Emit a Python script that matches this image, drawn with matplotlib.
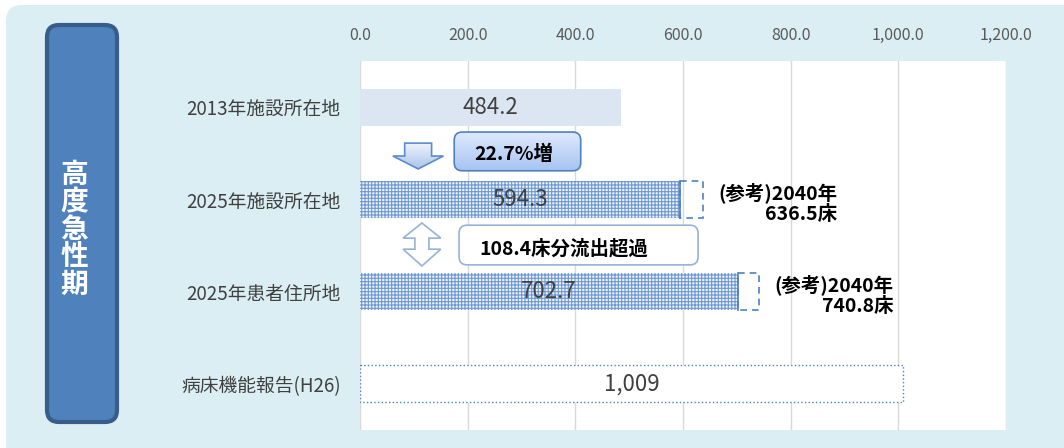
import matplotlib
matplotlib.use('Agg')
import matplotlib.pyplot as plt
from matplotlib.patches import FancyBboxPatch, Rectangle, Polygon
from matplotlib.colors import to_rgb
import numpy as np

plt.rcParams['font.family'] = ['Noto Sans CJK JP', 'DejaVu Sans']
plt.rcParams['hatch.linewidth'] = 0.8

# data
categories = ['2013年施設所在地', '2025年施設所在地', '2025年患者住所地', '病床機能報告(H26)']
values = [484.2, 594.3, 702.7, 1009]
value_labels = ['484.2', '594.3', '702.7', '1,009']
ref_2040 = [None, 636.5, 740.8, None]
ticks = [0, 200, 400, 600, 800, 1000, 1200]
growth_label = '22.7%増'
outflow_label = '108.4床分流出超過'
side_title = '高度急性期'

W, H = 1064, 448
fig = plt.figure(figsize=(W / 100, H / 100), dpi=100)
fig.patch.set_facecolor('white')

# background panel + side label (pixel coords)
bg = fig.add_axes([0, 0, 1, 1])
bg.set_xlim(0, W)
bg.set_ylim(H, 0)
bg.axis('off')
bg.add_patch(FancyBboxPatch((6, 5), W + 40, H + 40,
                            boxstyle='round,pad=0,rounding_size=16',
                            fc='#DAEEF3', ec='none'))
bg.add_patch(FancyBboxPatch((47, 25), 70, 397,
                            boxstyle='round,pad=0,rounding_size=12',
                            fc='#4F81BD', ec='#385D8A', lw=3))
for i, ch in enumerate(side_title):
    bg.text(74.5, 175 + i * 27.4, ch, color='white', fontsize=20,
            fontweight='bold', ha='center', va='center')

# main chart
ax = fig.add_axes([360 / W, 1 - 430 / H, 646 / W, 369 / H])
ax.set_facecolor('white')
for s in ax.spines.values():
    s.set_visible(False)
ax.xaxis.tick_top()
ax.set_xticks(ticks)
ax.set_xticklabels([f'{t:,.1f}' for t in ticks], color='#595959', fontsize=11.5)
ax.tick_params(axis='x', length=0, pad=12)
ax.set_yticks(range(len(categories)))
ax.set_yticklabels(categories, color='#404040', fontsize=13.5)
ax.tick_params(axis='y', length=0, pad=14)
ax.grid(axis='x', color='#D9D9D9', lw=1)
ax.set_axisbelow(True)

h = 0.4
ax.barh(0, values[0], height=h, color='#DCE6F2')
ax.barh([1, 2], values[1:3], height=h, color='#EEF3FA', edgecolor='#6E98D2',
        lw=0, hatch='+++++')
for i in (1, 2):
    ax.plot([values[i]] * 2, [i - h / 2, i + h / 2], color='#4F81BD', lw=1.2)
ax.barh(3, values[3], height=h, color='white', edgecolor='#4F81BD', lw=1, ls=':')

for i, (v, lab) in enumerate(zip(values, value_labels)):
    ax.text(v / 2, i, lab, ha='center', va='center', fontsize=16, color='#404040')

for i, r in enumerate(ref_2040):
    if r is None:
        continue
    ax.add_patch(Rectangle((values[i], i - h / 2), r - values[i], h, fill=False,
                           ec='#4F81BD', ls=(0, (4, 3)), lw=1.2))
    ax.text(r + 250, i + 0.04, f'(参考)2040年\n{r}床', ha='right', va='center',
            fontsize=14, fontweight='bold', linespacing=1.1, color='black')

# x units vs y units aspect for rounded boxes
asp = (646 / 1200) / (369 / 4)


def gradient_fill(patch, extent, top, bottom, z):
    ax.add_patch(patch)
    c0, c1 = np.array(to_rgb(top)), np.array(to_rgb(bottom))
    t = np.linspace(0, 1, 64)[:, None, None]
    img = c0 + (c1 - c0) * t
    im = ax.imshow(img, extent=extent, aspect='auto', zorder=z, origin='upper')
    im.set_clip_path(patch)


# down arrow between 2013 and 2025
cx = 108
down = Polygon([(cx - 25, 0.39), (cx + 25, 0.39), (cx + 25, 0.53), (cx + 47, 0.53),
                (cx, 0.67), (cx - 47, 0.53), (cx - 25, 0.53)],
               closed=True, fc='none', ec='#5B8BD0', lw=1.2, zorder=6, clip_on=False)
gradient_fill(Polygon(down.get_xy(), closed=True, fc='none', ec='none', clip_on=False),
              (cx - 47, cx + 47, 0.67, 0.39), '#EEF3FB', '#A9C4EB', 5)
ax.add_patch(down)

# growth box
gbox = FancyBboxPatch((175, 0.27), 235, 0.42, boxstyle='round,pad=0,rounding_size=15',
                      mutation_aspect=asp, fc='none', ec='#4F81BD', lw=1.2, zorder=6)
gradient_fill(FancyBboxPatch((175, 0.27), 235, 0.42, boxstyle='round,pad=0,rounding_size=15',
                             mutation_aspect=asp, fc='none', ec='none'),
              (175, 410, 0.69, 0.27), '#DFEAFD', '#A6C3F2', 5)
ax.add_patch(gbox)
ax.text(285, 0.51, growth_label, ha='center', va='center', fontsize=14,
        fontweight='bold', color='black', zorder=7)

# up-down arrow between 2025 rows
cx = 115
ud = Polygon([(cx, 1.256), (cx + 35, 1.42), (cx + 13, 1.42), (cx + 13, 1.54),
              (cx + 35, 1.54), (cx, 1.722), (cx - 35, 1.54), (cx - 13, 1.54),
              (cx - 13, 1.42), (cx - 35, 1.42)],
             closed=True, fc='white', ec='#95B3D7', lw=1.2, zorder=6)
ax.add_patch(ud)

# outflow box
obox = FancyBboxPatch((184, 1.28), 444, 0.43, boxstyle='round,pad=0,rounding_size=15',
                      mutation_aspect=asp, fc='white', ec='#95B3D7', lw=1.2, zorder=6)
ax.add_patch(obox)
ax.text(378, 1.54, outflow_label, ha='center', va='center', fontsize=14,
        fontweight='bold', color='black', zorder=7)

ax.set_xlim(0, 1200)
ax.set_ylim(3.5, -0.5)

fig.savefig('out.png', dpi=100, facecolor=fig.get_facecolor())
